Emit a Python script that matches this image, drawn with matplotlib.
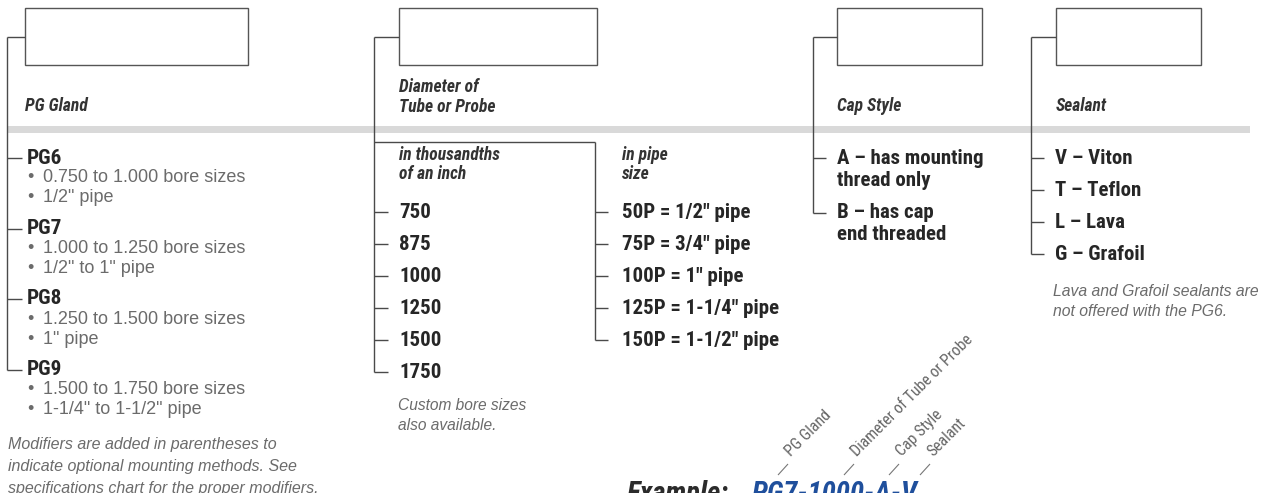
import matplotlib
matplotlib.use("Agg")
import matplotlib.pyplot as plt
from matplotlib import font_manager
from matplotlib.patches import Rectangle

# ordering-guide content
headers = ["PG Gland", "Diameter of\nTube or Probe", "Cap Style", "Sealant"]
pg_glands = ["PG6", "PG7", "PG8", "PG9"]
pg_bores = ["0.750 to 1.000 bore sizes", "1.000 to 1.250 bore sizes",
            "1.250 to 1.500 bore sizes", "1.500 to 1.750 bore sizes"]
pg_pipes = ['1/2" pipe', '1/2" to 1" pipe', '1" pipe', '1-1/4" to 1-1/2" pipe']
pg_note = ["Modifiers are added in parentheses to",
           "indicate optional mounting methods. See",
           "specifications chart for the proper modifiers."]
diam_subheads = [["in thousandths", "of an inch"], ["in pipe", "size"]]
diam_thou = ["750", "875", "1000", "1250", "1500", "1750"]
diam_pipe = ['50P = 1/2" pipe', '75P = 3/4" pipe', '100P = 1" pipe',
             '125P = 1-1/4" pipe', '150P = 1-1/2" pipe']
diam_note = ["Custom bore sizes", "also available."]
cap_styles = [["A \u2013 has mounting", "thread only"], ["B \u2013 has cap", "end threaded"]]
sealants = ["V \u2013 Viton", "T \u2013 Teflon", "L \u2013 Lava", "G \u2013 Grafoil"]
sealant_note = ["Lava and Grafoil sealants are", "not offered with the PG6."]
example_parts = ["PG Gland", "Diameter of Tube or Probe", "Cap Style", "Sealant"]
example_code = "PG7-1000-A-V"

# pick a condensed face: (name, stretch, size factor vs DejaVu condensed)
fonts = font_manager.fontManager.ttflist
cands = [("Roboto Condensed", "normal", 1.12),
         ("Liberation Sans Narrow", "normal", 1.05),
         ("DejaVu Sans", "condensed", 1.0)]
NARROW, K = dict(family=["Liberation Sans", "DejaVu Sans"]), 0.93
for name, st, k in cands:
    if any(f.name == name and (st == "normal" or f.stretch == st) for f in fonts):
        NARROW, K = dict(family=name, stretch=st), k
        break
REG = ["Liberation Sans", "DejaVu Sans"]
LINE = "#4a4a4a"
DARK = "#262626"
GREY = "#6b6b6b"

fig = plt.figure(figsize=(12.61, 4.93), dpi=100)
ax = fig.add_axes([0, 0, 1, 1])
ax.set_xlim(0, 1261)
ax.set_ylim(493, 0)
ax.axis("off")

def seg(x0, y0, x1, y1, color=LINE, lw=1.0):
    ax.plot([x0, x1], [y0, y1], color=color, lw=lw, solid_capstyle="butt")

def bracket(x, ytop, ys, tick=14):
    seg(x, ytop, x, ys[-1])
    for y in ys:
        seg(x, y, x + tick, y)

def bold(x, y, s, size=13.4):
    ax.text(x, y, s, weight="bold", size=size * K, color=DARK, va="center", **NARROW)

def italic_head(x, y, s):
    ax.text(x, y, s, weight="bold", style="italic", size=11.3 * K,
            color="#333333", va="center", linespacing=1.2, **NARROW)

def light(x, y, s, size=12, italic=False):
    ax.text(x, y, s, family=REG, size=size, color=GREY, va="center",
            style="italic" if italic else "normal")

# grey band across the page
ax.add_patch(Rectangle((7, 126), 1243, 7, color="#d9d9d9", lw=0, zorder=0))

# boxes and their connectors
box_x = [(25, 248), (399, 597), (837, 982), (1056, 1201)]
line_x = [7, 374, 813, 1031]
for (b0, b1), lx, h in zip(box_x, line_x, headers):
    ax.add_patch(Rectangle((b0, 8), b1 - b0, 57, fill=False, ec="#555555", lw=1.0))
    seg(lx, 37, b0, 37)
    italic_head(b0, 106 if "\n" not in h else 97, h)

# PG gland column
pg_y = [158 + 70.5 * i for i in range(len(pg_glands))]
bracket(line_x[0], 37, pg_y, tick=15)
for y, g, b, p in zip(pg_y, pg_glands, pg_bores, pg_pipes):
    bold(27, y, g, size=13.7)
    for dy, s in [(20, b), (40, p)]:
        light(27, y + dy, "\u2022", size=13)
        light(43, y + dy, s, size=13)
for i, s in enumerate(pg_note):
    light(8, 445 + 22 * i, s, size=11.5, italic=True)

# diameter column
seg(line_x[1], 142, 595, 142)
thou_y = [212 + 32 * i for i in range(len(diam_thou))]
pipe_y = [212 + 32 * i for i in range(len(diam_pipe))]
bracket(line_x[1], 37, thou_y, tick=14)
bracket(595, 142, pipe_y, tick=13)
for j, x in enumerate([399, 622]):
    for i, s in enumerate(diam_subheads[j]):
        italic_head(x, 155 + 19 * i, s)
for y, s in zip(thou_y, diam_thou):
    bold(399, y, s)
for y, s in zip(pipe_y, diam_pipe):
    bold(622, y, s)
for i, s in enumerate(diam_note):
    light(398, 405 + 20 * i, s, size=11.2, italic=True)

# cap style column
cap_y = [158, 213]
bracket(line_x[2], 37, cap_y, tick=13)
for y, (a, b) in zip(cap_y, cap_styles):
    bold(837, y, a)
    bold(837, y + 22, b)

# sealant column
seal_y = [158 + 32 * i for i in range(len(sealants))]
bracket(line_x[3], 37, seal_y, tick=13)
for y, s in zip(seal_y, sealants):
    bold(1055, y, s)
for i, s in enumerate(sealant_note):
    light(1053, 291 + 21 * i, s, size=11.3, italic=True)

# example with angled call-outs
part_x = [791, 857, 902, 933]
for x, s in zip(part_x, example_parts):
    seg(x - 13, 475, x - 3, 464, color="#777777", lw=0.8)
    ax.text(x, 457, s, size=10.2 * K, color="#666666", rotation=45,
            rotation_mode="anchor", ha="left", va="baseline", **NARROW)
ax.text(627, 502, "Example:", weight="bold", style="italic",
        size=18.5 * K, color="#2b2b2b", va="baseline", **NARROW)
ax.text(752, 502, example_code, weight="bold", style="italic",
        size=18.5 * K, color="#1f4f9c", va="baseline", **NARROW)

fig.savefig("out.png", dpi=100)
